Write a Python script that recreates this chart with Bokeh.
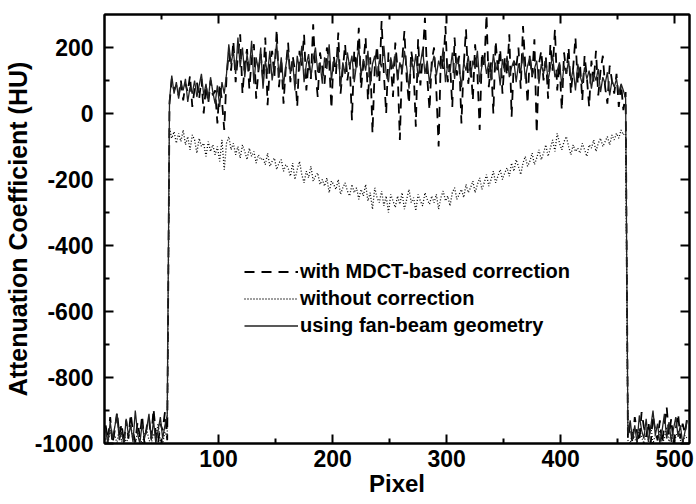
from bokeh.plotting import figure
from bokeh.models import (Range1d, FixedTicker, LinearAxis, Legend, LegendItem,
                          CustomLabelingPolicy)
from bokeh.embed import file_html
from bokeh.resources import INLINE

# ---------------- data ----------------
pixel = list(range(1, 513, 2))  # detector pixel index

mdct_corrected = [
    -945, -990, -920, -1000, -960, -905, -975, -940, -1000, -930, -985, -910, -965, -995, -935, -980,
    -915, -1000, -950, -925, -985, -895, -970, -1000, -940, -960, -905, -990, 30, 105, 70, 85,
    55, 100, 40, 90, 65, 115, 20, 75, 95, 45, 105, 0, 85, 30, 100, 55,
    70, -30, 90, 40, -50, 110, 185, 130, 220, 95, 175, 240, 60, 150, 195, 75,
    160, 210, 45, 130, 180, 100, 230, 25, 145, 190, 110, 255, 80, 165, 30, 140,
    215, 95, 175, 130, 20, 190, 145, 240, 70, 160, 105, 270, 125, 50, 185, 140,
    90, 200, 160, 15, 175, 120, 245, 60, 135, 210, 100, 155, -20, 190, 130, 260,
    75, 150, 230, 40, 170, -60, 140, 205, 95, 280, 120, 0, 185, 155, 50, 215,
    135, -80, 160, 250, 105, 30, 190, 140, -40, 225, 85, 170, 290, 110, 10, 160,
    200, 70, -100, 180, 135, 265, 95, 150, 20, 230, 115, 175, -30, 145, 255, 90,
    160, 40, 210, 125, -50, 185, 140, 300, 80, 155, 0, 220, 130, 195, 60, 170,
    115, 240, -10, 160, 135, 200, 75, 265, 145, 30, 180, 110, 225, -60, 150, 190,
    100, 175, 45, 210, 130, 255, 70, 155, 10, 185, 120, 200, 60, 140, 230, 90,
    150, 40, 175, 110, 20, 160, 95, 190, 55, 130, 175, 80, 30, 145, 100, 60,
    120, 20, 90, 10, 65, -985, -940, -1000, -920, -965, -995, -905, -950, -980, -935, -1000,
    -915, -960, -990, -930, -1000, -945, -890, -975, -925, -1000, -955, -910, -985, -940, -970, -920,
]

no_correction = [
    -985, -1000, -960, -990, -975, -1000, -950, -995, -970, -1000, -980, -945, -990, -1000, -965, -985,
    -1000, -975, -955, -990, -1000, -970, -985, -940, -995, -1000, -965, -980, -45, -75, -55, -90,
    -60, -85, -50, -95, -70, -110, -65, -80, -120, -75, -100, -90, -130, -85, -115, -95,
    -125, -100, -145, -80, -170, -90, -70, -110, -90, -125, -100, -135, -95, -115, -140, -105,
    -130, -115, -150, -125, -140, -135, -155, -120, -160, -145, -135, -170, -150, -140, -175, -155,
    -165, -190, -150, -200, -170, -145, -185, -210, -175, -195, -160, -205, -190, -180, -215, -200,
    -220, -195, -240, -205, -215, -230, -200, -245, -225, -210, -235, -250, -215, -240, -225, -260,
    -230, -250, -215, -265, -240, -290, -225, -255, -270, -235, -280, -250, -300, -245, -265, -285,
    -250, -275, -240, -290, -260, -230, -270, -255, -295, -245, -265, -280, -240, -260, -275, -250,
    -270, -245, -290, -255, -235, -265, -250, -280, -240, -225, -260, -245, -230, -255, -215, -240,
    -225, -205, -240, -215, -195, -230, -210, -185, -220, -200, -175, -210, -190, -170, -200, -180,
    -165, -190, -150, -175, -140, -160, -185, -150, -130, -160, -145, -120, -155, -135, -110, -140,
    -120, -95, -130, -105, -80, -115, -60, -90, -110, -85, -70, -100, -125, -95, -115, -105,
    -120, -90, -110, -130, -95, -105, -80, -115, -90, -75, -100, -85, -70, -95, -65, -80,
    -60, -75, -50, -65, -55, -990, -1000, -965, -985, -1000, -955, -980, -1000, -970, -990, -945,
    -1000, -975, -990, -960, -1000, -985, -950, -995, -970, -1000, -980, -960, -990, -1000, -975, -985,
]

fan_beam = [
    -960, -1000, -935, -985, -950, -910, -990, -965, -1000, -925, -975, -945, -995, -900, -970, -1000,
    -940, -985, -955, -910, -990, -930, -1000, -960, -920, -985, -945, -915, 40, 115, 60, 95,
    45, 90, 70, 105, 35, 80, 60, 100, 50, 85, 120, 55, 90, 40, 110, 65,
    30, 85, 20, 95, 60, 120, 210, 150, 190, 120, 230, 140, 200, 110, 180, 130,
    220, 90, 170, 130, 200, 75, 160, 120, 190, 100, 150, 215, 110, 170, 85, 145,
    190, 120, 160, 70, 175, 130, 205, 95, 150, 180, 110, 165, 200, 125, 155, 90,
    170, 135, 210, 100, 160, 145, 190, 80, 155, 120, 185, 140, 175, 95, 150, 200,
    115, 165, 130, 190, 85, 150, 175, 110, 160, 140, 205, 120, 95, 170, 135, 180,
    100, 155, 125, 190, 140, 75, 165, 130, 180, 110, 150, 195, 120, 160, 90, 145,
    175, 115, 160, 135, 200, 95, 150, 125, 185, 105, 170, 140, 80, 155, 130, 175,
    110, 160, 135, 190, 95, 145, 170, 120, 155, 100, 180, 130, 150, 85, 165, 125,
    175, 110, 140, 160, 95, 150, 125, 185, 105, 145, 170, 115, 135, 160, 90, 150,
    120, 165, 100, 140, 175, 110, 130, 155, 85, 145, 120, 160, 100, 135, 70, 150,
    115, 90, 140, 105, 130, 75, 120, 100, 135, 65, 110, 90, 125, 55, 100, 80,
    105, 60, 90, 70, 45, -970, -930, -990, -945, -1000, -915, -960, -985, -925, -995, -950,
    -900, -975, -940, -1000, -960, -910, -985, -935, -995, -955, -920, -980, -945, -1000, -965, -930,
]

x_major = [100, 200, 300, 400, 500]
x_minor = [50, 150, 250, 350, 450]
y_major = [-1000, -800, -600, -400, -200, 0, 200]
y_minor = [-900, -700, -500, -300, -100, 100]
y_tick_labels = ["-1000", "-800", "-600", "-400", "-200", "0", "200"]

legend_labels = ["with MDCT-based correction", "without correction", "using fan-beam geometry"]

FONT = "Liberation Sans"

# ---------------- figure ----------------
p = figure(width=696, height=504, output_backend="svg", toolbar_location=None,
           x_range=Range1d(0, 513), y_range=Range1d(-1000, 300),
           min_border_left=103, min_border_right=7, min_border_top=14, min_border_bottom=61)
p.background_fill_color = "white"
p.border_fill_color = "white"
p.outline_line_color = "black"
p.outline_line_width = 2
p.xgrid.visible = False
p.ygrid.visible = False

r_dot = p.line(pixel, no_correction, line_color="black", line_width=1.3, line_dash="1 2")
r_dash = p.line(pixel, mdct_corrected, line_color="black", line_width=1.8, line_dash="10 7")
r_solid = p.line(pixel, fan_beam, line_color="#222222", line_width=1.3)

def style(ax, labels=True):
    ax.axis_line_width = 2
    ax.axis_line_color = "black"
    ax.major_tick_in = 9
    ax.major_tick_out = 0
    ax.minor_tick_in = 5
    ax.minor_tick_out = 0
    ax.major_tick_line_width = 2
    ax.minor_tick_line_width = 2
    ax.major_tick_line_color = "black"
    ax.minor_tick_line_color = "black"
    if labels:
        ax.major_label_text_font = FONT
        ax.major_label_text_font_style = "bold"
        ax.major_label_text_font_size = "23px"
        ax.major_label_text_color = "black"
        ax.axis_label_text_font = FONT
        ax.axis_label_text_font_style = "bold"
        ax.axis_label_text_color = "black"
    else:
        ax.major_label_policy = CustomLabelingPolicy(code="""
            for (const i of indices) { indices.unset(i) }
            return indices
        """)
        ax.major_label_text_font_size = "1px"
        ax.major_label_standoff = 0

xa = p.xaxis[0]
xa.ticker = FixedTicker(ticks=x_major, minor_ticks=x_minor)
style(xa)
xa.axis_label = "Pixel"
xa.axis_label_text_font_size = "24px"
xa.major_label_standoff = 6
xa.axis_label_standoff = 0

ya = p.yaxis[0]
ya.ticker = FixedTicker(ticks=y_major, minor_ticks=y_minor)
style(ya)
ya.major_label_overrides = {v: s for v, s in zip(y_major, y_tick_labels)}
ya.axis_label = "Attenuation Coefficient (HU)"
ya.axis_label_text_font_size = "25px"
ya.major_label_standoff = 11
ya.axis_label_standoff = 0

top = LinearAxis(ticker=FixedTicker(ticks=x_major, minor_ticks=x_minor))
style(top, labels=False)
p.add_layout(top, "above")

right = LinearAxis(ticker=FixedTicker(ticks=y_major, minor_ticks=y_minor))
style(right, labels=False)
p.add_layout(right, "right")

legend = Legend(items=[
    LegendItem(label=legend_labels[0], renderers=[r_dash]),
    LegendItem(label=legend_labels[1], renderers=[r_dot]),
    LegendItem(label=legend_labels[2], renderers=[r_solid]),
], location=(140, 104))
legend.border_line_alpha = 0
legend.background_fill_alpha = 0
legend.padding = 0
legend.margin = 0
legend.spacing = 0
legend.glyph_width = 54
legend.glyph_height = 27
legend.label_height = 27
legend.label_standoff = 2
legend.label_text_font = FONT
legend.label_text_font_style = "bold"
legend.label_text_font_size = "20px"
legend.label_text_color = "black"
p.add_layout(legend)

open("out.html", "w").write(file_html(p, INLINE))
